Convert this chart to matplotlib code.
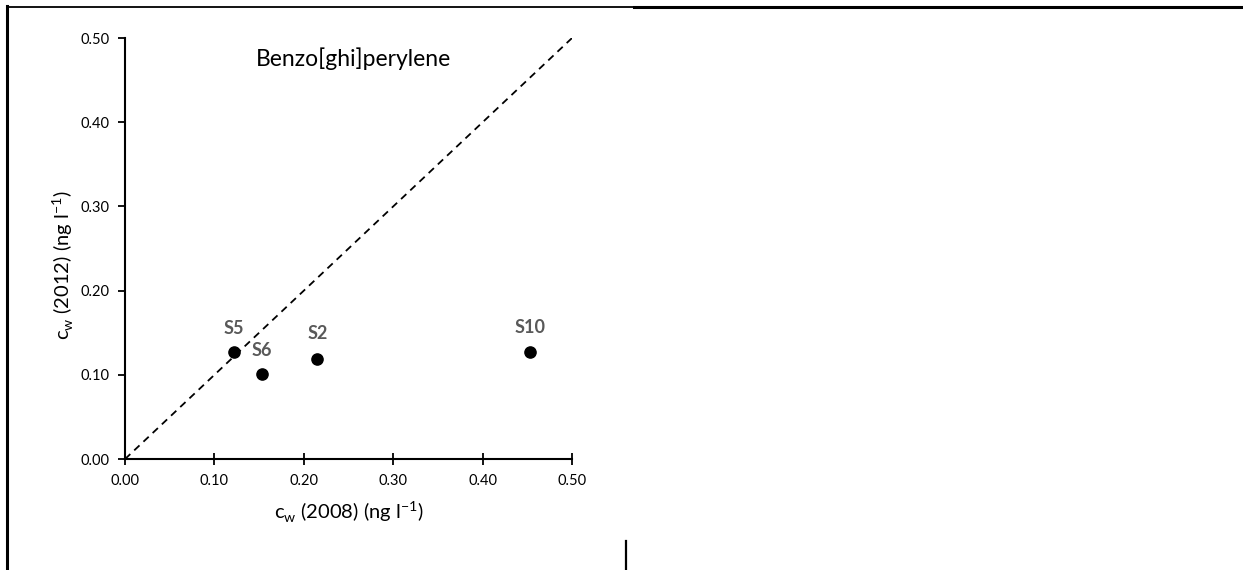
from matplotlib import pyplot as plt
from matplotlib.lines import Line2D

plt.rcParams['font.family'] = ['Lato', 'DejaVu Sans']

# sites, c_w 2008 vs c_w 2012 (ng/l)
sites = ["S5", "S6", "S2", "S10"]
cw_2008 = [0.122, 0.153, 0.215, 0.453]
cw_2012 = [0.127, 0.101, 0.119, 0.127]
label_offset = [17, 17, 18, 18]

ticks = [0.0, 0.1, 0.2, 0.3, 0.4, 0.5]
tick_labels = ["0.00", "0.10", "0.20", "0.30", "0.40", "0.50"]

fig = plt.figure(figsize=(12.43, 5.70), dpi=100)
ax = fig.add_axes([0.1006, 0.1947, 0.3596, 0.7386])

ax.plot([0, 0.5], [0, 0.5], linestyle="dashed", color="black", linewidth=1.3, dashes=(4, 3))
ax.scatter(cw_2008, cw_2012, s=65, color="black", zorder=3)
for name, x, y, off in zip(sites, cw_2008, cw_2012, label_offset):
    ax.annotate(name, (x, y), xytext=(0, off), textcoords="offset points",
                ha="center", va="center", fontsize=13, fontweight="bold", color="#595959")

ax.set_xlim(0, 0.5)
ax.set_ylim(0, 0.5)
ax.set_xticks(ticks)
ax.set_xticklabels(tick_labels)
ax.set_yticks(ticks)
ax.set_yticklabels(tick_labels)
ax.tick_params(axis="x", direction="inout", length=8, width=1.3, labelsize=10.5, pad=7)
ax.tick_params(axis="y", direction="out", length=5, width=1.3, labelsize=10.5, pad=6)
for s in ["top", "right"]:
    ax.spines[s].set_visible(False)
for s in ["left", "bottom"]:
    ax.spines[s].set_linewidth(1.5)

ax.set_xlabel("c$_\\mathregular{w}$ (2008) (ng l$^\\mathregular{-1}$)", fontsize=14.5, labelpad=8)
ax.set_ylabel("c$_\\mathregular{w}$ (2012) (ng l$^\\mathregular{-1}$)", fontsize=14.5)
ax.yaxis.set_label_coords(-0.11, 0.46)
ax.text(0.146, 0.467, "Benzo[ghi]perylene", fontsize=16.5, ha="left", va="baseline")

# frame pieces around the figure
W, H = 1243.0, 570.0
fig.add_artist(Line2D([7 / W, 7 / W], [0, 1 - 6 / H], color="black", linewidth=2.2))
fig.add_artist(Line2D([7 / W, 634 / W], [1 - 6.5 / H, 1 - 6.5 / H], color="black", linewidth=1.3))
fig.add_artist(Line2D([634 / W, 1], [1 - 7 / H, 1 - 7 / H], color="black", linewidth=2.2))
fig.add_artist(Line2D([626 / W, 626 / W], [0, 1 - 541 / H], color="black", linewidth=1.6))

fig.savefig("out.png", dpi=100)
